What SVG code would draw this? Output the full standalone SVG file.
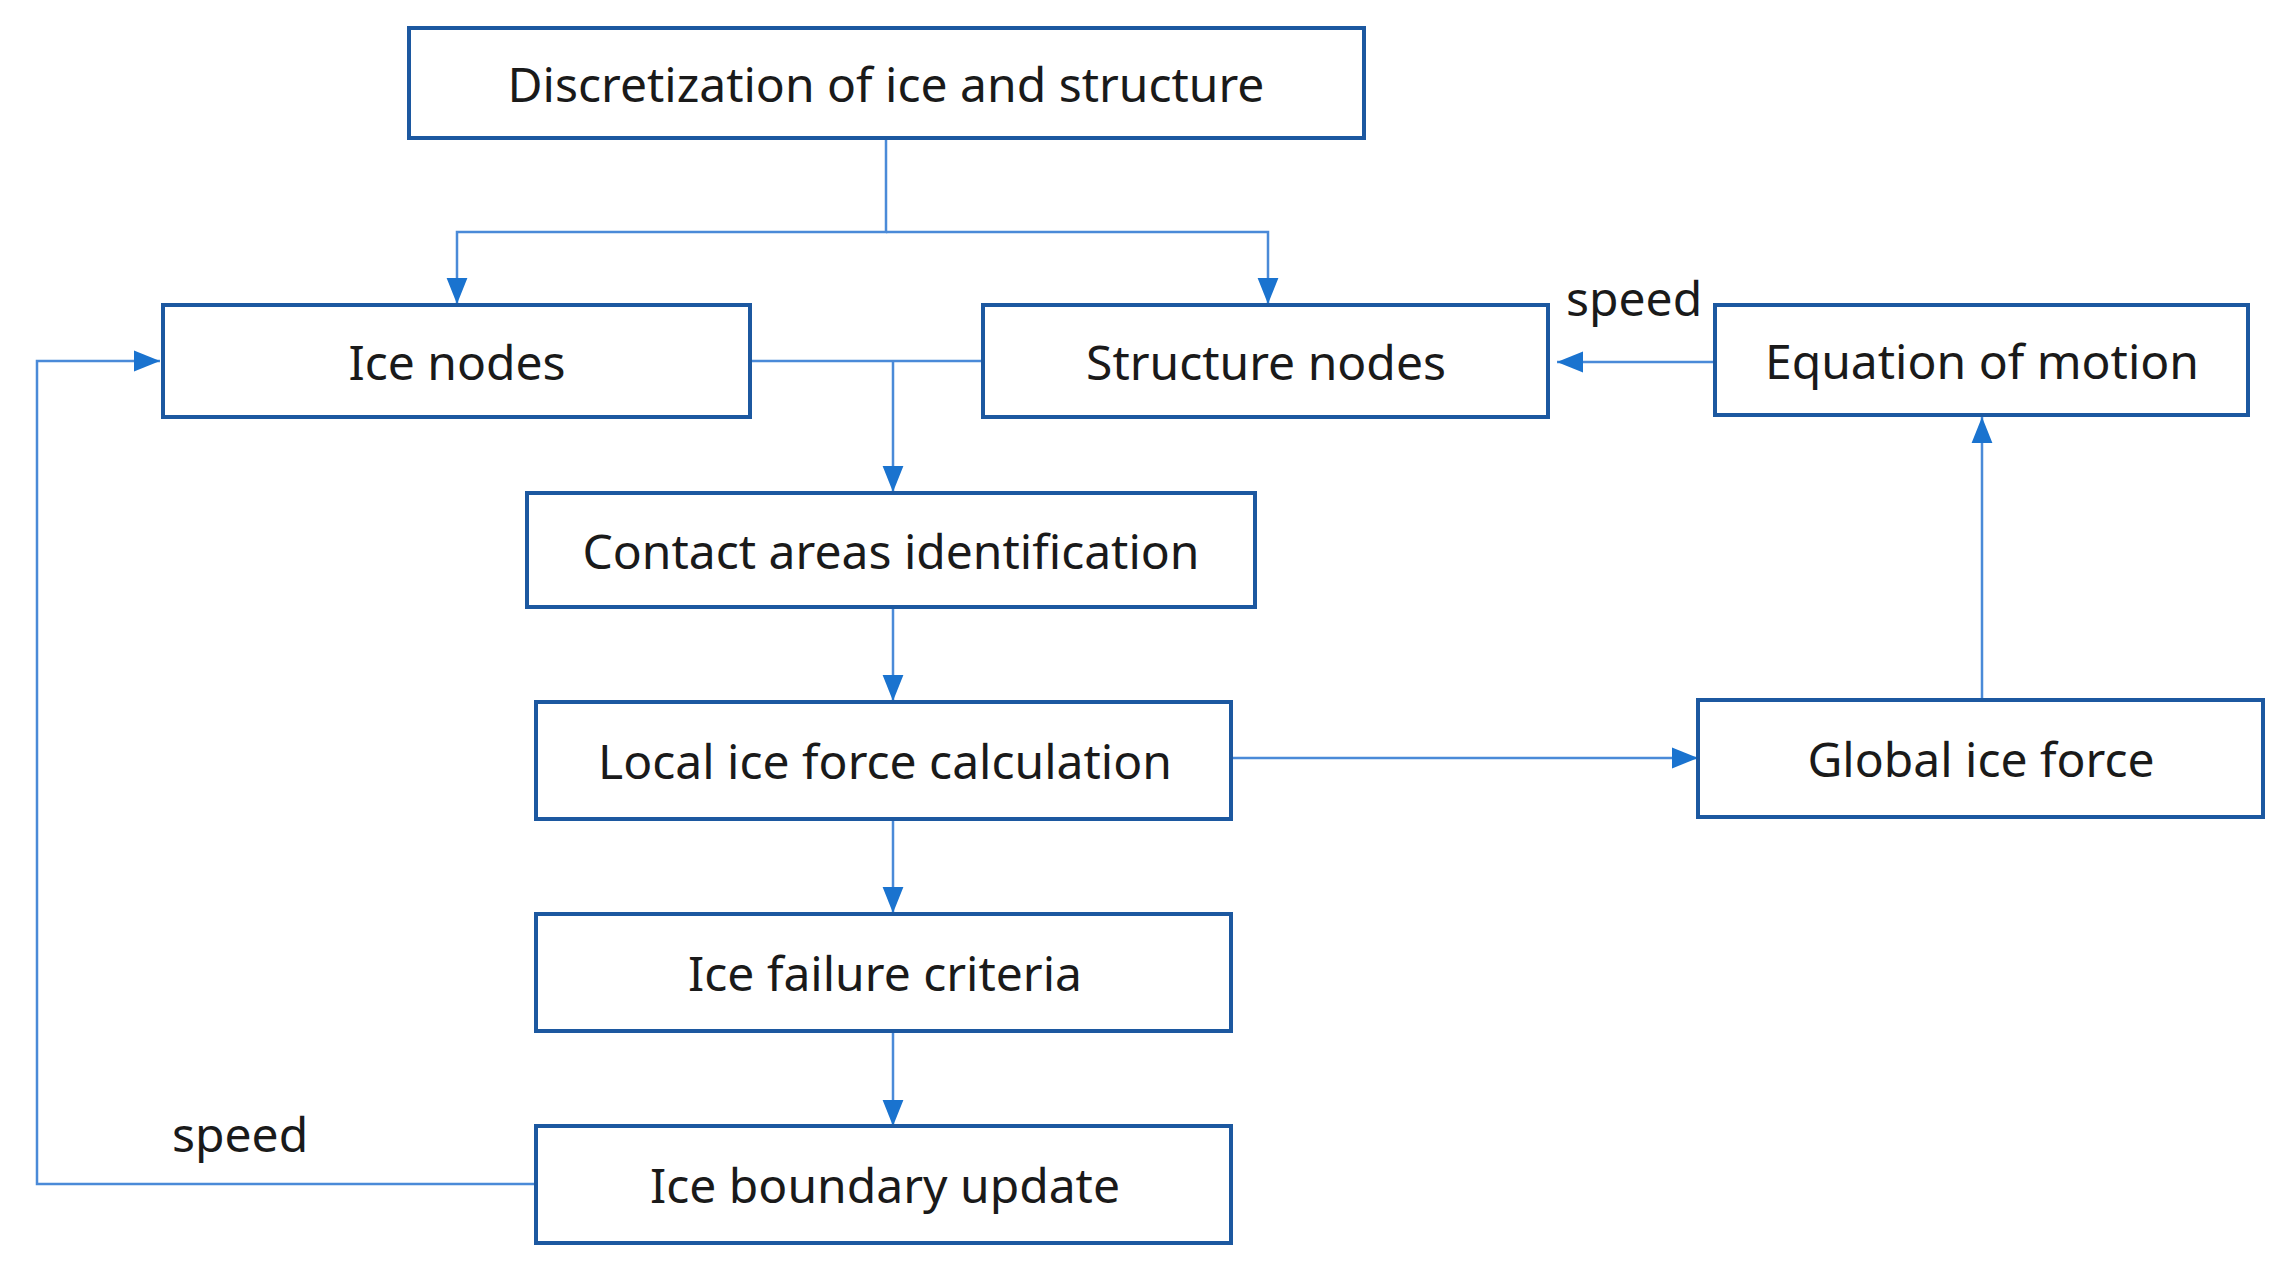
<svg xmlns="http://www.w3.org/2000/svg" width="2289" height="1269" viewBox="0 0 2289 1269">
<style>
.box{fill:#fff;stroke:#1c58a0;stroke-width:4}
.t{font-family:"Noto Sans","Liberation Sans",sans-serif;font-size:48px;fill:#1a1a1a;text-anchor:middle;dominant-baseline:central}
.l{font-family:"Noto Sans","Liberation Sans",sans-serif;font-size:48px;fill:#1a1a1a}
.c{fill:none;stroke:#4a8ad8;stroke-width:2.5}
</style>
<defs><marker id="a" viewBox="0 0 10 10" refX="10" refY="5" markerWidth="8" markerHeight="8" orient="auto" markerUnits="userSpaceOnUse"><path d="M0,0L10,5L0,10z" fill="#1a73cf"/></marker>
<marker id="b" viewBox="0 0 10 10" refX="10" refY="5" markerWidth="26" markerHeight="26" orient="auto" markerUnits="userSpaceOnUse"><path d="M0,1L10,5L0,9z" fill="#1a73cf"/></marker></defs>
<rect width="2289" height="1269" fill="#fff"/>
<g id="connectors">
<path class="c" d="M886,138V232H457V304" marker-end="url(#b)"/>
<path class="c" d="M886,232H1268V304" marker-end="url(#b)"/>
<path class="c" d="M750,361H983M893,361V492" marker-end="url(#b)"/>
<path class="c" d="M1715,362H1557" marker-end="url(#b)"/>
<path class="c" d="M1982,699V417" marker-end="url(#b)"/>
<path class="c" d="M893,607V701" marker-end="url(#b)"/>
<path class="c" d="M1231,758H1698" marker-end="url(#b)"/>
<path class="c" d="M893,820V913" marker-end="url(#b)"/>
<path class="c" d="M893,1031V1126" marker-end="url(#b)"/>
<path class="c" d="M536,1184H37V361H160" marker-end="url(#b)"/>
<text class="l" x="1566" y="316">speed</text>
<text class="l" x="172" y="1152">speed</text>
</g>
<g id="n1"><rect class="box" x="409" y="28" width="955" height="110"/><text class="t" x="886" y="83">Discretization of ice and structure</text></g>
<g id="n2"><rect class="box" x="163" y="305" width="587" height="112"/><text class="t" x="457" y="361">Ice nodes</text></g>
<g id="n3"><rect class="box" x="983" y="305" width="565" height="112"/><text class="t" x="1266" y="361">Structure nodes</text></g>
<g id="n4"><rect class="box" x="1715" y="305" width="533" height="110"/><text class="t" x="1982" y="360">Equation of motion</text></g>
<g id="n5"><rect class="box" x="527" y="493" width="728" height="114"/><text class="t" x="891" y="550">Contact areas identification</text></g>
<g id="n6"><rect class="box" x="536" y="702" width="695" height="117"/><text class="t" x="885" y="760">Local ice force calculation</text></g>
<g id="n7"><rect class="box" x="1698" y="700" width="565" height="117"/><text class="t" x="1981" y="758">Global ice force</text></g>
<g id="n8"><rect class="box" x="536" y="914" width="695" height="117"/><text class="t" x="885" y="972">Ice failure criteria</text></g>
<g id="n9"><rect class="box" x="536" y="1126" width="695" height="117"/><text class="t" x="885" y="1184">Ice boundary update</text></g>
</svg>
